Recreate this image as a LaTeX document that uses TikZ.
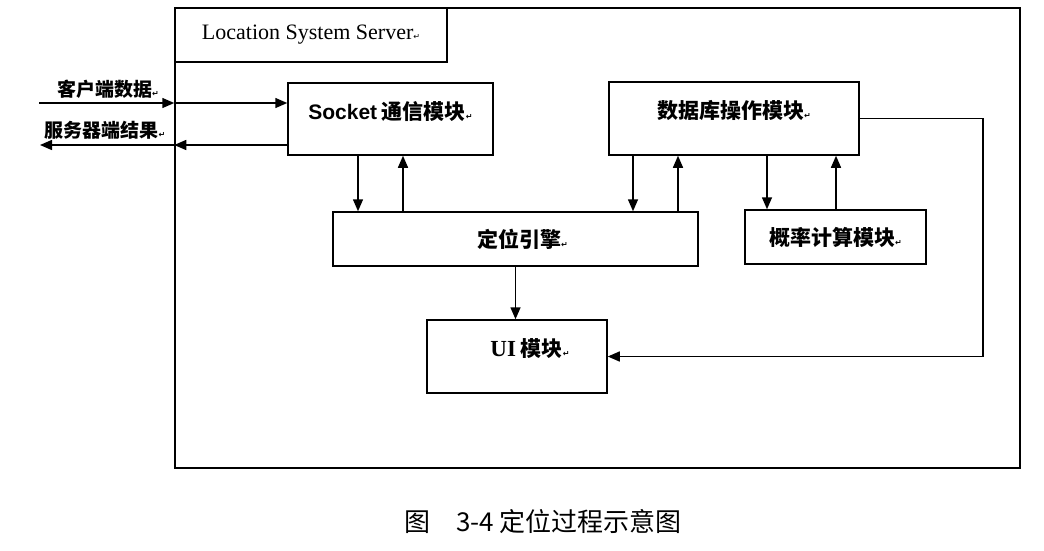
\documentclass[tikz,border=0pt]{standalone}
\usepackage{fontspec}
\setmainfont{Liberation Serif}
\newfontfamily\cjk{Noto Sans CJK SC}
\newfontfamily\arial{Liberation Sans}
\newfontfamily\dejavu{DejaVu Sans}
\usetikzlibrary{arrows.meta}
\newcommand{\enter}{{\dejavu\fontsize{8}{8}\selectfont ↵}}
\tikzstyle{module} = [draw, line width=1.5pt, inner sep=0pt, font=\cjk\bfseries\fontsize{21}{21}\selectfont]
\tikzstyle{flow} = [line width=1.5pt, -{Triangle[length=12pt,width=10pt]}]
\tikzstyle{side} = [font=\cjk\bfseries\fontsize{19}{19}\selectfont]

\begin{document}
\begin{tikzpicture}[x=1pt,y=-1pt]
      \useasboundingbox (0,0) rectangle (1044,550);
      \node[module, minimum width=845pt, minimum height=460pt] (server) at (597.5,238) {};
      \node[module, minimum width=272pt, minimum height=54pt, font=\rmfamily\fontsize{22}{22}\selectfont] (title) at (311,35) {Location System Server\enter};
      \node[module, minimum width=205pt, minimum height=72pt, text depth=18pt] (socket) at (390.5,119) {{\arial\bfseries Socket} 通信模块\enter};
      \node[module, minimum width=250pt, minimum height=73pt, text depth=19pt] (db) at (734,118.5) {数据库操作模块\enter};
      \node[module, minimum width=365pt, minimum height=54pt] (engine) at (515.5,239) {\hspace*{14pt}定位引擎\enter};
      \node[module, minimum width=181pt, minimum height=54pt] (prob) at (835.5,237) {概率计算模块\enter};
      \node[module, minimum width=180pt, minimum height=73pt, text depth=18pt] (ui) at (517,356.5) {\hspace*{26pt}{\rmfamily\bfseries\fontsize{23}{23}\selectfont UI} 模块\enter};
      \node[side] (client) at (108,89) {客户端数据\enter};
      \node[side] (result) at (105,130) {服务器端结果\enter};
      \node[font=\cjk\fontsize{26}{26}\selectfont] (caption) at (543,522) {图\quad 3-4 定位过程示意图};
      \coordinate (cin) at (39,103);
      \coordinate (cout) at (40,145);
      \coordinate (a1) at (358,0);
      \coordinate (a2) at (403,0);
      \coordinate (b1) at (633,0);
      \coordinate (b2) at (678,0);
      \coordinate (c1) at (767,0);
      \coordinate (c2) at (836,0);
      \coordinate (e) at (983,0);
      \draw[flow] (cin) -- (server.west |- cin);
      \draw[flow] (server.west |- cin) -- (socket.west |- cin);
      \draw[flow] (socket.west |- cout) -- (server.west |- cout);
      \draw[flow] (server.west |- cout) -- (cout);
      \draw[flow] (a1 |- socket.south) -- (a1 |- engine.north);
      \draw[flow] (a2 |- engine.north) -- (a2 |- socket.south);
      \draw[flow] (b1 |- db.south) -- (b1 |- engine.north);
      \draw[flow] (b2 |- engine.north) -- (b2 |- db.south);
      \draw[flow] (c1 |- db.south) -- (c1 |- prob.north);
      \draw[flow] (c2 |- prob.north) -- (c2 |- db.south);
      \draw[flow] (engine.south) -- (engine.south |- ui.north);
      \draw[flow] (db.east) -| (e |- ui.east) -- (ui.east);
    \end{tikzpicture}
\end{document}
